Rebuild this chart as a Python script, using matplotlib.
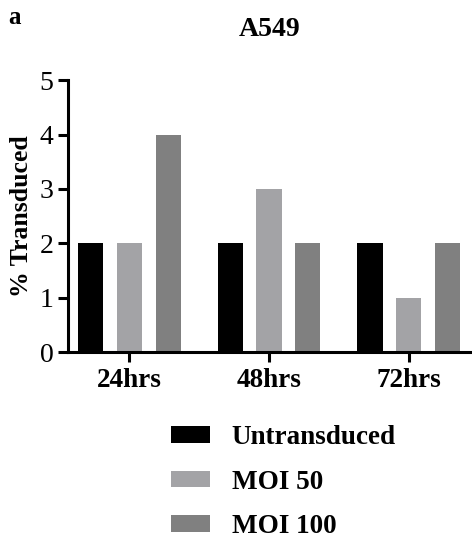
import matplotlib
matplotlib.use("Agg")
import matplotlib.pyplot as plt
import numpy as np

categories = ["24hrs", "48hrs", "72hrs"]
series_names = ["Untransduced", "MOI 50", "MOI 100"]
untransduced = [2, 2, 2]
moi50 = [2, 3, 1]
moi100 = [4, 2, 2]
yticks = [0, 1, 2, 3, 4, 5]

colors = ["#000000", "#a3a3a6", "#808080"]

plt.rcParams['font.family'] = ['Liberation Serif', 'DejaVu Serif']

fig = plt.figure(figsize=(4.72, 5.45), dpi=100)
ax = fig.add_axes([0.144, 0.354, 0.852, 0.499])

x = np.arange(len(categories))
w = 0.18
off = 0.277
for i, (vals, name, c) in enumerate(zip([untransduced, moi50, moi100], series_names, colors)):
    ax.bar(x + (i - 1) * off, vals, width=w, color=c, label=name)

ax.set_xlim(-0.44, 2.44)
ax.set_ylim(0, 5)
ax.set_yticks(yticks)
ax.set_xticks(x)
ax.set_xticklabels(categories, fontweight='bold', fontsize=19.5)
ax.tick_params(axis='y', labelsize=20, width=2.2, length=7.5, pad=3)
ax.tick_params(axis='x', width=2.2, length=7.5, pad=4)
for s in ['top', 'right']:
    ax.spines[s].set_visible(False)
for s in ['left', 'bottom']:
    ax.spines[s].set_linewidth(2.2)
ax.set_ylabel("% Transduced", fontweight='bold', fontsize=18.5, labelpad=5)

fig.text(0.572, 0.945, "A549", ha='center', va='center', fontweight='bold', fontsize=20)
fig.text(0.03, 0.968, "a", ha='center', va='center', fontweight='bold', fontsize=18)

fig.legend(loc='upper left', bbox_to_anchor=(0.339, 0.24), frameon=False,
           prop={'weight': 'bold', 'size': 19.5}, handlelength=1.45, handleheight=0.55,
           labelspacing=0.72, handletextpad=0.8, borderaxespad=0)

fig.savefig("out.png", dpi=100)
